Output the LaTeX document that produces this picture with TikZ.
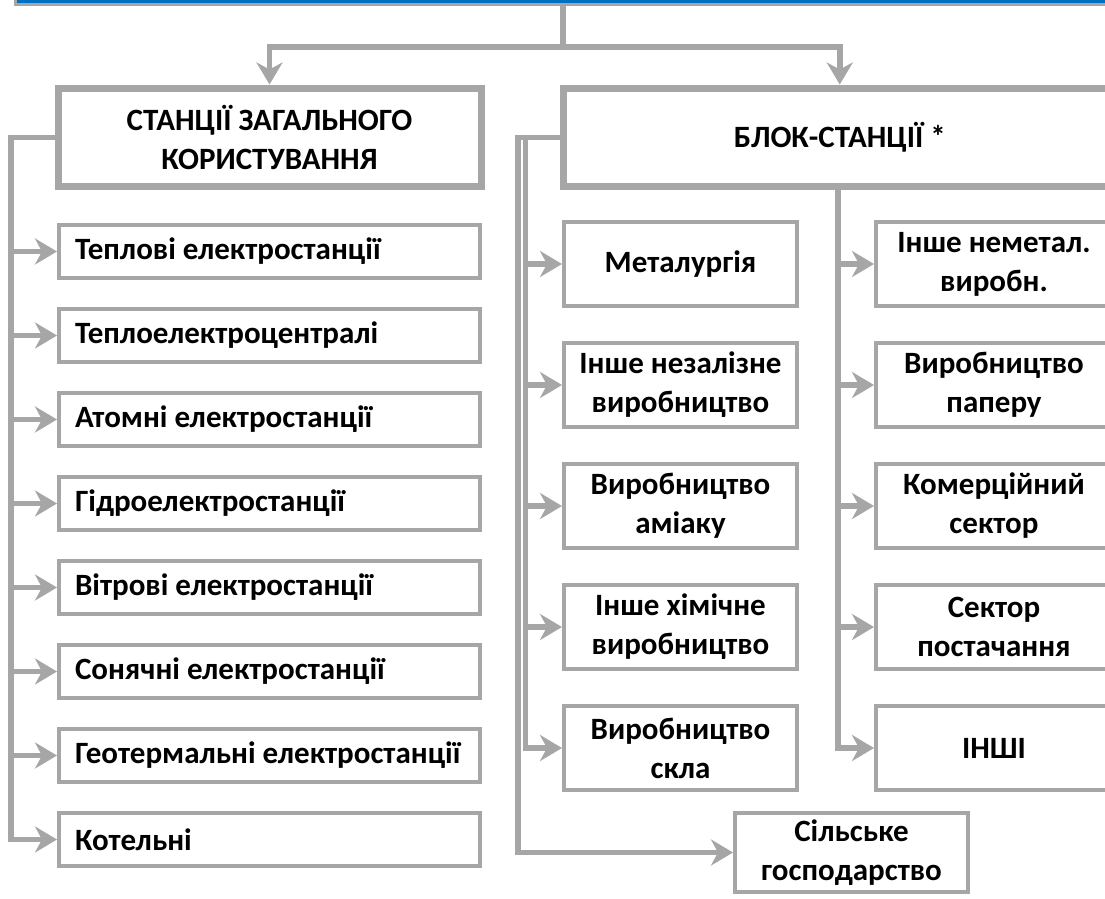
\documentclass[tikz,border=0pt]{standalone}
\usepackage{fontspec}
\setmainfont{Carlito}
\usetikzlibrary{arrows.meta}
\definecolor{linegrey}{RGB}{166,166,166}
\definecolor{barblue}{RGB}{0,112,192}

\begin{document}
\begin{tikzpicture}[x=1pt,y=-1pt,
  font=\fontsize{31}{39}\selectfont\bfseries,
  bus/.style={draw=linegrey, line width=5.5pt},
  conn/.style={bus, -{Stealth[length=22pt,width=26pt,inset=7pt]}},
  groupbox/.style={draw=linegrey, line width=7pt, fill=white, align=center,
    inner sep=0pt, minimum height=98.5pt},
  itembox/.style={draw=linegrey, line width=4pt, fill=white, align=center,
    inner sep=0pt},
  leftitem/.style={itembox, align=flush left, text width=389pt, inner xsep=16pt,
    minimum height=53pt},
  blockitem/.style={itembox, minimum width=233pt, minimum height=84pt},
  sideitem/.style={itembox, minimum width=236pt, minimum height=84pt},
]
\useasboundingbox (0,0) rectangle (1105,898);
\clip (0,0) rectangle (1105,898);

% title bar along the top edge
\node[draw=linegrey, line width=3pt, fill=barblue, inner sep=0pt,
      minimum width=1105pt, minimum height=24pt] (bar) at (567.5,-7.5) {};

% two main groups
\node[groupbox, minimum width=423pt] (gen) at (269.5,137.25)
  {СТАНЦІЇ ЗАГАЛЬНОГО\\КОРИСТУВАННЯ};
\node[groupbox, minimum width=552.5pt] (blk) at (839.75,137.25)
  {БЛОК-СТАНЦІЇ *};

% routing points of the buses
\coordinate (split) at (563,47);
\coordinate (busL) at (11,0);
\coordinate (busO) at (518,0);
\coordinate (busI) at (525.5,0);
\coordinate (busR) at (838,0);

% public stations
\node[leftitem] (k1) at (269.5,251.5) {Теплові електростанції};
\node[leftitem] (k2) at (269.5,335.5) {Теплоелектроцентралі};
\node[leftitem] (k3) at (269.5,419.5) {Атомні електростанції};
\node[leftitem] (k4) at (269.5,503.5) {Гідроелектростанції};
\node[leftitem] (k5) at (269.5,587.5) {Вітрові електростанції};
\node[leftitem] (k6) at (269.5,671.5) {Сонячні електростанції};
\node[leftitem] (k7) at (269.5,755.5) {Геотермальні електростанції};
\node[leftitem] (k8) at (269.5,839.5) {Котельні};

% block stations, first column
\node[blockitem] (m1) at (680.5,264) {Металургія};
\node[blockitem] (m2) at (680.5,385) {Інше незалізне\\виробництво};
\node[blockitem] (m3) at (680.5,506) {Виробництво\\аміаку};
\node[blockitem] (m4) at (680.5,627) {Інше хімічне\\виробництво};
\node[blockitem] (m5) at (680.5,748) {Виробництво\\скла};

% block stations, second column
\node[sideitem] (r1) at (994,264) {Інше неметал.\\виробн.};
\node[sideitem] (r2) at (994,385) {Виробництво\\паперу};
\node[sideitem] (r3) at (994,506) {Комерційний\\сектор};
\node[sideitem] (r4) at (994,627) {Сектор\\постачання};
\node[sideitem] (r5) at (994,748) {ІНШІ};

\node[itembox, minimum width=233pt, minimum height=79pt] (agr) at (851.5,852.5)
  {Сільське\\господарство};

% top split
\draw[bus] (bar.south -| split) -- (split);
\draw[conn] (split) -| (gen.north);
\draw[conn] (split) -| (blk.north);

% left bus
\draw[conn] (gen.west) -- (gen.west -| busL) |- (k8.west);
\foreach \i in {1,...,7} \draw[conn] (k\i.west -| busL) -- (k\i.west);

% block buses on the left of the first column
\draw[conn] (blk.west) -- (blk.west -| busO) |- (agr.west);
\draw[conn] (blk.west) -- (blk.west -| busI) |- (m5.west);
\foreach \i in {1,...,4} \draw[conn] (m\i.west -| busI) -- (m\i.west);

% bus of the second column
\draw[conn] (blk.south -| busR) |- (r5.west);
\foreach \i in {1,...,4} \draw[conn] (r\i.west -| busR) -- (r\i.west);
\end{tikzpicture}
\end{document}
